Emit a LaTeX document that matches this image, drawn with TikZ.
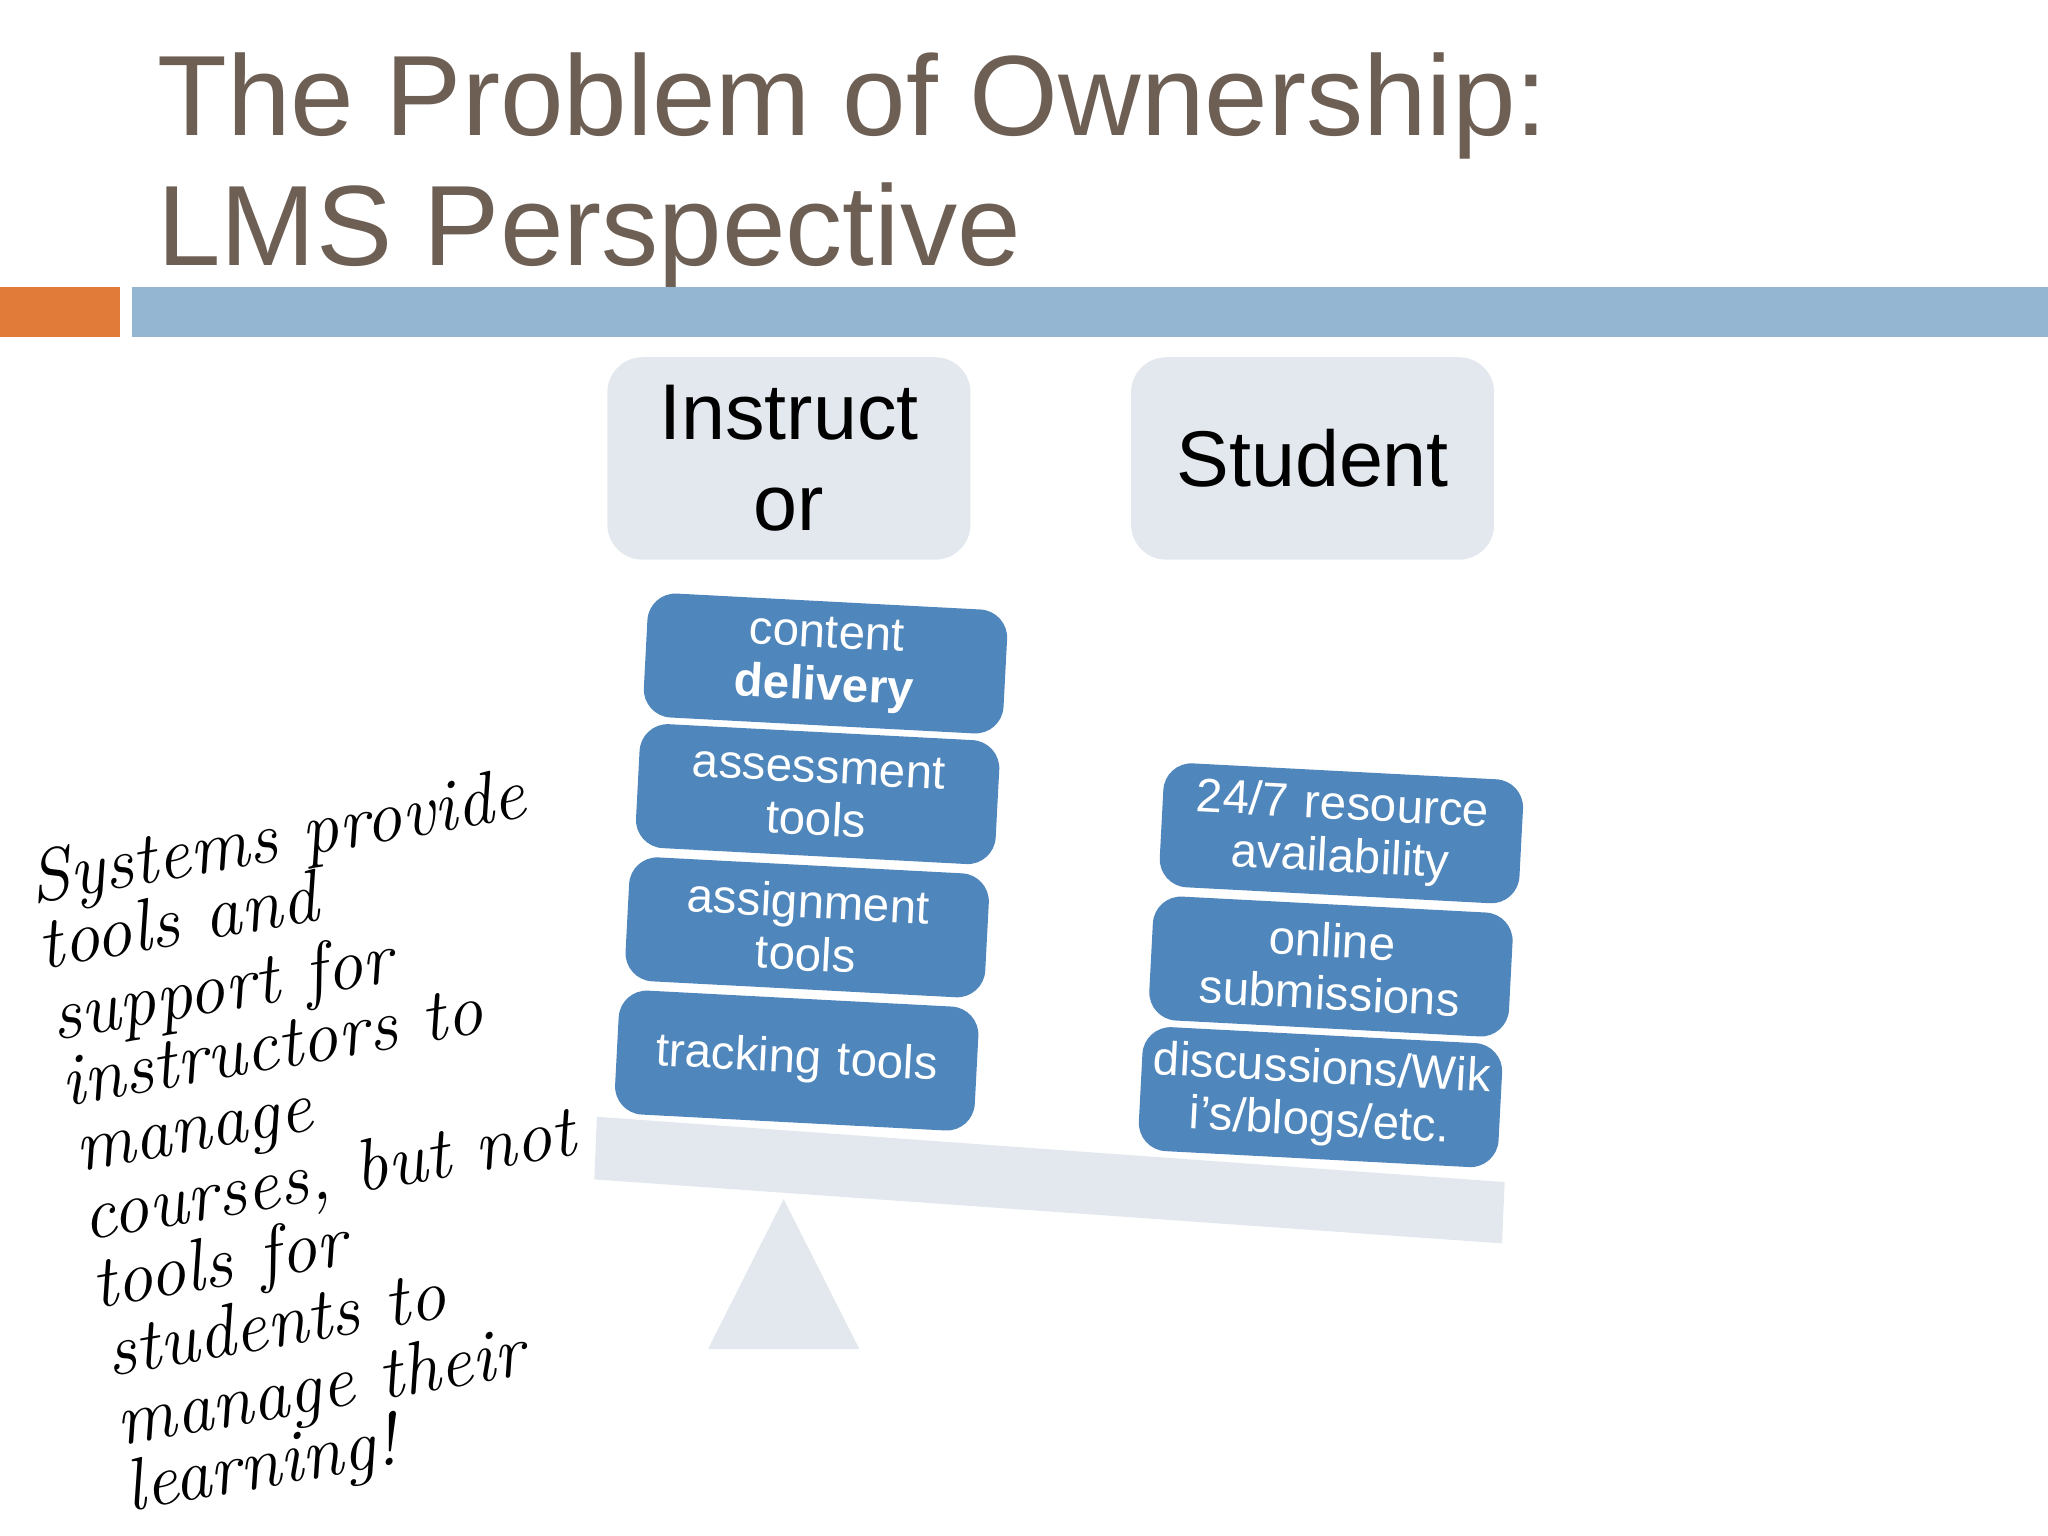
\documentclass[tikz,border=0pt]{standalone}
\usepackage{fontspec}
\setmainfont{Liberation Sans}
\newfontfamily\handfont{Latin Modern Roman}
\definecolor{titlec}{RGB}{110,95,85}
\definecolor{orangec}{RGB}{224,123,57}
\definecolor{barc}{RGB}{148,182,210}
\definecolor{paleb}{RGB}{227,232,239}
\definecolor{boxb}{RGB}{79,134,187}
\newlength{\pxu}\setlength{\pxu}{0.013061cm}
\tikzset{
 hdr/.style={fill=paleb,rounded corners=10pt,minimum width=278\pxu,minimum height=155\pxu,font=\fontsize{22.5}{26}\selectfont,align=center,text=black},
 item/.style={fill=boxb,rounded corners=8pt,minimum width=275\pxu,minimum height=95\pxu,text width=265\pxu,inner sep=2pt,font=\fontsize{13.5}{15}\selectfont,align=center,text=white,rotate=-3},
 hand/.style={anchor=base west,rotate=10,font=\handfont\itshape\fontsize{21}{23}\selectfont,inner sep=0pt}
}
\begin{document}
\begin{tikzpicture}[x=0.013061cm,y=-0.013061cm]
\useasboundingbox (0,0) rectangle (1568,1176);
\node[anchor=north west,align=left,text=titlec,font=\fontsize{32.5}{37}\selectfont,inner sep=0pt] (title) at (120,40) {The Problem of Ownership:\\LMS Perspective};
\fill[orangec] (0,220) rectangle (92,258);
\fill[barc] (101,220) rectangle (1568,258);
\node[hdr] (ins) at (604,351) {Instruct\\or};
\node[hdr] (stu) at (1005,351) {Student};
\fill[paleb] (457,855) -- (1152,905) -- (1150,952) -- (455,903) -- cycle;
\fill[paleb] (600,918) -- (658,1033) -- (542,1033) -- cycle;
\node[item] (b1) at (632,508) {content\\\textbf{delivery}};
\node[item] (b2) at (626,608) {assessment\\tools};
\node[item] (b3) at (618,710) {assignment\\tools};
\node[item] (b4) at (610,812) {tracking tools};
\node[item] (c1) at (1027,638) {24/7 resource\\availability};
\node[item] (c2) at (1019,740) {online\\submissions};
\node[item] (c3) at (1011,840) {discussions/Wik\\i’s/blogs/etc.};
\node[hand] (h1) at (25,692) {Systems provide};
\node[hand] (h2) at (32,742) {tools and};
\node[hand] (h3) at (42,797) {support for};
\node[hand] (h4) at (50,847) {instructors to};
\node[hand] (h5) at (60,897) {manage};
\node[hand] (h6) at (66,950) {courses, but not};
\node[hand] (h7) at (73,1002) {tools for};
\node[hand] (h8) at (84,1054) {students to};
\node[hand] (h9) at (92,1107) {manage their};
\node[hand] (h10) at (99,1157) {learning!};
\end{tikzpicture}
\end{document}
